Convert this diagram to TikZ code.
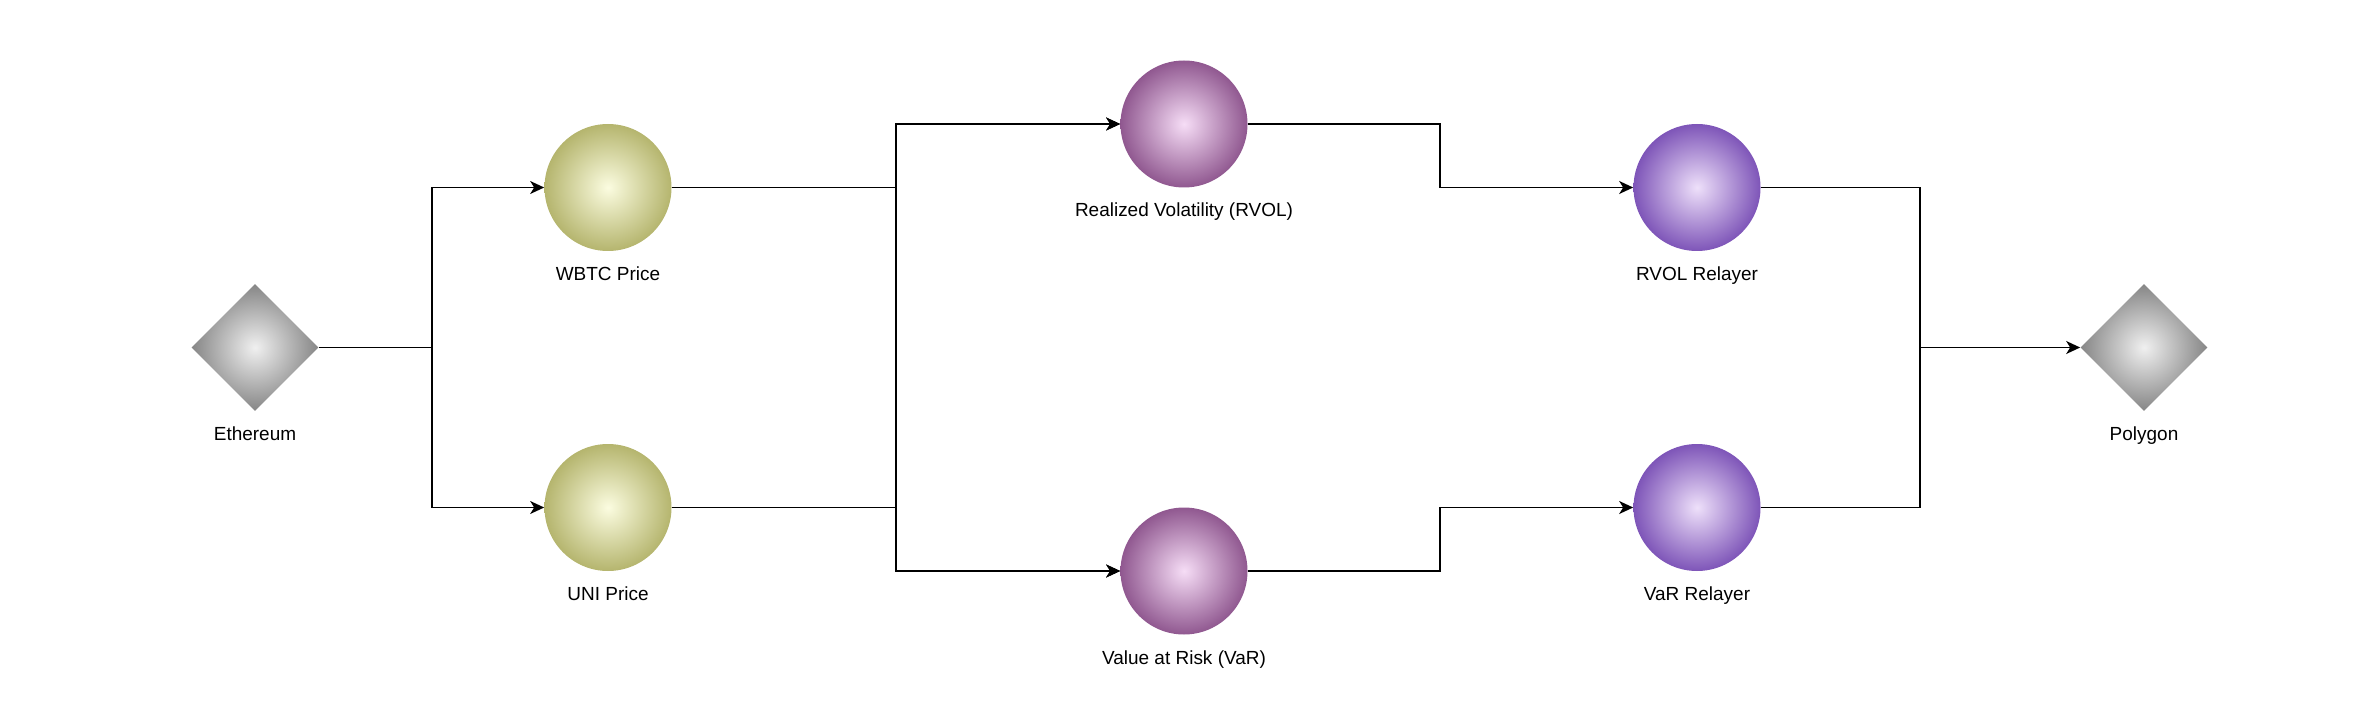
\documentclass[tikz,border=0pt]{standalone}
\usepackage{fontspec}
\setmainfont{Liberation Sans}
\usetikzlibrary{shapes.geometric,arrows.meta}
\definecolor{oliveout}{HTML}{B5B56E}
\definecolor{olivein}{HTML}{FBFCE0}
\definecolor{pinkout}{HTML}{905890}
\definecolor{pinkin}{HTML}{F6DDF6}
\definecolor{violetout}{HTML}{7E55B8}
\definecolor{violetin}{HTML}{EEE0FA}
\definecolor{greyout}{HTML}{868686}
\definecolor{greyin}{HTML}{F0F0F0}
\tikzset{
  ball/.style={circle, inner sep=0pt, minimum size=2.54cm, shading=radial},
  chain/.style={diamond, aspect=1, inner sep=0pt, minimum width=2.54cm, minimum height=2.54cm,
    shading=radial, inner color=greyin, outer color=greyout},
  caption/.style={anchor=base, inner sep=0pt, font=\fontsize{10.8}{13}\selectfont},
  wire/.style={line width=0.8pt, black},
  flow/.style={wire, -{Stealth[length=0.28cm, width=0.26cm, inset=0.08cm]}}
}
\begin{document}
\begin{tikzpicture}
            \useasboundingbox (0,0) rectangle (47.4,-14.12);

            % Define chains and feeds
            \node[chain] (eth) at (5.1,-6.95) {};
            \node[chain] (poly) at (42.88,-6.95) {};
            \node[ball, inner color=olivein, outer color=oliveout] (wbtc) at (12.16,-3.75) {};
            \node[ball, inner color=olivein, outer color=oliveout] (uni) at (12.16,-10.15) {};
            \node[ball, inner color=pinkin, outer color=pinkout] (rvol) at (23.68,-2.48) {};
            \node[ball, inner color=pinkin, outer color=pinkout] (var) at (23.68,-11.42) {};
            \node[ball, inner color=violetin, outer color=violetout] (rvolrelay) at (33.94,-3.75) {};
            \node[ball, inner color=violetin, outer color=violetout] (varrelay) at (33.94,-10.15) {};

            % Captions
            \node[caption] (ethtext) at ([yshift=-1.86cm]eth.center) {Ethereum};
            \node[caption] (polytext) at ([yshift=-1.86cm]poly.center) {Polygon};
            \node[caption] (wbtctext) at ([yshift=-1.86cm]wbtc.center) {WBTC Price};
            \node[caption] (unitext) at ([yshift=-1.86cm]uni.center) {UNI Price};
            \node[caption] (rvoltext) at ([yshift=-1.86cm]rvol.center) {Realized Volatility (RVOL)};
            \node[caption] (vartext) at ([yshift=-1.86cm]var.center) {Value at Risk (VaR)};
            \node[caption] (rvolrelaytext) at ([yshift=-1.86cm]rvolrelay.center) {RVOL Relayer};
            \node[caption] (varrelaytext) at ([yshift=-1.86cm]varrelay.center) {VaR Relayer};

            % Junctions
            \coordinate (fork) at (8.64,-6.95);
            \coordinate (mix) at (17.92,-6.95);
            \coordinate (hop) at (28.8,-6.95);
            \coordinate (join) at (38.4,-6.95);

            % Draw connectors
            \draw[wire] (eth.east) -- (fork);
            \draw[flow] (fork) |- (wbtc.west);
            \draw[flow] (fork) |- (uni.west);
            \draw[flow] (wbtc.east) -- (wbtc.east -| mix) |- (rvol.west);
            \draw[flow] (wbtc.east) -- (wbtc.east -| mix) |- (var.west);
            \draw[flow] (uni.east) -- (uni.east -| mix) |- (rvol.west);
            \draw[flow] (uni.east) -- (uni.east -| mix) |- (var.west);
            \draw[flow] (rvol.east) -- (rvol.east -| hop) |- (rvolrelay.west);
            \draw[flow] (var.east) -- (var.east -| hop) |- (varrelay.west);
            \draw[wire] (varrelay.east) -| (join);
            \draw[flow] (rvolrelay.east) -| (join) -- (poly.west);
\end{tikzpicture}
\end{document}
